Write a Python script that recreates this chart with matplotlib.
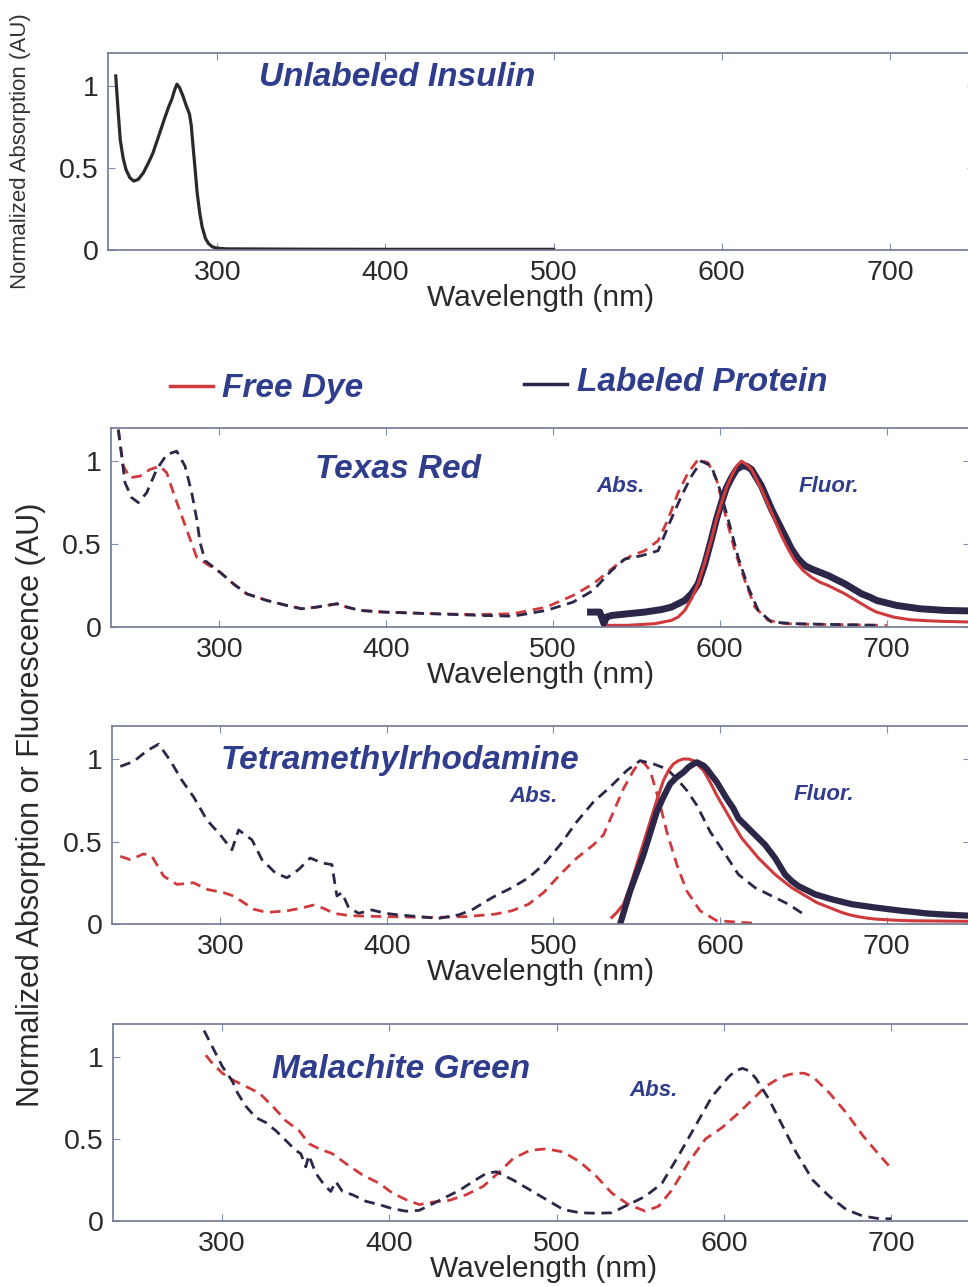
import matplotlib
matplotlib.use("Agg")
import matplotlib.pyplot as plt
from matplotlib.lines import Line2D

plt.rcParams['font.family'] = ['Liberation Sans', 'DejaVu Sans']

RED = '#cf3a3c'
DARK = '#2c2749'
BLUE = '#2f3d8c'
SPINE = '#707892'
TXT = '#2a2a2a'

# ---- Unlabeled insulin absorption ----
ins_wl = [239.6, 241, 242.3, 244, 245.7, 248, 250.3, 253, 256, 259, 261.7, 265, 268.6, 271,
          273, 274.8, 276, 277.5, 279.5, 281.5, 283.4, 284.5, 285.6, 287, 288, 289.5, 291,
          293, 294.7, 297, 299.3, 305, 350, 400, 450, 500]
ins_abs = [1.06, 0.85, 0.67, 0.56, 0.49, 0.44, 0.42, 0.43, 0.47, 0.53, 0.59, 0.69, 0.80, 0.87,
           0.92, 0.98, 1.01, 0.99, 0.94, 0.88, 0.83, 0.76, 0.63, 0.47, 0.35, 0.23, 0.14,
           0.07, 0.04, 0.02, 0.012, 0.007, 0.005, 0.004, 0.004, 0.004]

# ---- Texas Red ----
tr_free_abs_wl = [239.4, 242.4, 246.4, 252.4, 258.4, 264.4, 268.4, 272.4, 277.4, 282.4,
                  286.4, 292.4, 300.4, 308.4, 316.4, 328.4, 340.4, 349.4, 358.4, 370.4,
                  376.4, 384.4, 398.4, 428, 456, 476, 496, 512, 524, 534, 540, 547, 555,
                  563, 569, 575, 581, 587, 593, 598, 603, 609, 615, 621, 629, 639, 655,
                  675, 700]
tr_free_abs = [1.19, 0.97, 0.90, 0.91, 0.95, 0.97, 0.93, 0.81, 0.67, 0.53,
               0.42, 0.38, 0.33, 0.26, 0.20, 0.16, 0.13, 0.11, 0.12, 0.14,
               0.12, 0.10, 0.09, 0.08, 0.075, 0.08, 0.12, 0.19, 0.26, 0.34, 0.39, 0.43, 0.46,
               0.52, 0.65, 0.81, 0.93, 1.01, 0.99, 0.89, 0.69, 0.46, 0.28, 0.12, 0.04, 0.02, 0.016,
               0.014, 0.01]
tr_lab_abs_wl = [239.4, 243.4, 247.4, 251.4, 256.4, 262.4, 268.4, 274.4, 279.4, 283.4,
                 286.4, 288.4, 291.4, 300.4, 308.4, 316.4, 328.4, 340.4, 349.4, 358.4,
                 370.4, 376.4, 384.4, 398.4, 428, 456, 476, 496, 512, 524, 535, 543, 553,
                 563, 570, 577, 583, 589, 595, 600, 605, 611, 617, 623, 631, 645, 665, 694]
tr_lab_abs = [1.19, 0.87, 0.78, 0.75, 0.81, 0.95, 1.04, 1.06, 0.97, 0.81,
              0.65, 0.51, 0.40, 0.33, 0.26, 0.20, 0.16, 0.13, 0.11, 0.12,
              0.14, 0.12, 0.10, 0.09, 0.08, 0.07, 0.065, 0.10, 0.15, 0.22, 0.34, 0.41, 0.43,
              0.46, 0.63, 0.79, 0.91, 1.00, 0.97, 0.83, 0.65, 0.42, 0.24, 0.10, 0.03, 0.02, 0.016, 0.01]
tr_free_fl_wl = [533, 545, 561, 571, 575, 579, 583, 587, 591, 595, 598, 601, 604, 607, 610,
                 613, 616, 619, 622, 625, 628, 631, 634, 637, 641, 645, 650, 655, 660, 665, 670,
                 675, 680, 685, 690, 694, 699, 704, 714, 724, 734, 750]
tr_free_fl = [0.01, 0.01, 0.02, 0.04, 0.06, 0.10, 0.17, 0.26, 0.39, 0.53, 0.65, 0.75, 0.84,
              0.91, 0.97, 1.00, 0.98, 0.95, 0.89, 0.83, 0.76, 0.69, 0.62, 0.55, 0.47, 0.40, 0.34,
              0.30, 0.27, 0.25, 0.225, 0.20, 0.17, 0.14, 0.11, 0.09, 0.075, 0.06, 0.044, 0.038,
              0.034, 0.03]
tr_lab_fl_wl = [522.5, 528, 529.5, 530.5, 532, 535.4, 545, 555, 565, 571, 575, 579, 583, 587,
                591, 595, 598, 601, 604, 607, 610, 613, 616, 619, 622, 625, 628, 631, 635, 639,
                643, 647, 651, 655, 660, 665, 670, 675, 680, 685, 690, 694, 700, 706, 713, 720,
                735, 750]
tr_lab_fl = [0.09, 0.09, 0.05, 0.02, 0.06, 0.07, 0.08, 0.09, 0.105, 0.12, 0.14, 0.16, 0.20,
             0.26, 0.38, 0.53, 0.65, 0.75, 0.84, 0.90, 0.95, 0.97, 0.97, 0.95, 0.90, 0.85, 0.78,
             0.71, 0.63, 0.55, 0.47, 0.41, 0.37, 0.35, 0.33, 0.31, 0.285, 0.26, 0.23, 0.20,
             0.18, 0.16, 0.145, 0.13, 0.12, 0.11, 0.10, 0.097]

# ---- Tetramethylrhodamine ----
tmr_lab_abs_wl = [240, 248, 256, 263, 270, 277, 284, 292, 300, 307, 311, 319, 325, 333, 340,
                  347, 354, 361, 367, 369, 370, 373, 377, 383, 391, 399, 407, 419, 431, 443,
                  451, 459, 465, 475, 485, 494, 504, 514, 524, 534, 544, 552, 560, 568, 574,
                  580, 586, 594, 602, 611, 621, 631, 641, 650]
tmr_lab_abs = [0.955, 0.985, 1.05, 1.09, 0.99, 0.87, 0.77, 0.63, 0.54, 0.45, 0.57, 0.51, 0.39,
               0.31, 0.28, 0.33, 0.40, 0.37, 0.36, 0.23, 0.17, 0.19, 0.10, 0.065, 0.085, 0.065,
               0.055, 0.045, 0.034, 0.055, 0.085, 0.135, 0.17, 0.22, 0.28, 0.36, 0.48, 0.62,
               0.74, 0.83, 0.93, 0.99, 0.97, 0.94, 0.88, 0.81, 0.72, 0.56, 0.44, 0.30, 0.22,
               0.17, 0.12, 0.06]
tmr_free_abs_wl = [240, 246, 254, 259, 266, 274, 284, 292, 302, 308, 314, 320, 328, 340, 348,
                   356, 362, 368, 378, 398, 428, 448, 465, 475, 485, 494, 504, 514, 524, 530,
                   536, 542, 548, 551, 554, 558, 563, 568, 574, 580, 588, 598, 620]
tmr_free_abs = [0.41, 0.39, 0.425, 0.41, 0.29, 0.24, 0.25, 0.21, 0.19, 0.17, 0.13, 0.09, 0.07,
                0.08, 0.095, 0.115, 0.095, 0.065, 0.05, 0.045, 0.04, 0.045, 0.06, 0.08, 0.12,
                0.19, 0.30, 0.40, 0.48, 0.54, 0.68, 0.82, 0.93, 0.97, 0.98, 0.93, 0.76, 0.56,
                0.36, 0.20, 0.08, 0.02, 0.005]
tmr_free_fl_wl = [535, 538, 542, 546, 550, 554, 558, 562, 566, 569, 572, 575, 578, 581, 584,
                  587, 590, 594, 598, 602, 606, 610, 613, 618, 623, 628, 633, 638, 643, 648, 653,
                  658, 663, 668, 673, 678, 683, 688, 693, 703, 713, 730, 750]
tmr_free_fl = [0.04, 0.07, 0.12, 0.23, 0.36, 0.49, 0.62, 0.75, 0.87, 0.93, 0.97, 0.99, 1.00,
               1.00, 0.99, 0.96, 0.93, 0.86, 0.78, 0.71, 0.64, 0.57, 0.52, 0.46, 0.40, 0.35, 0.30,
               0.26, 0.22, 0.19, 0.16, 0.13, 0.11, 0.09, 0.07, 0.055, 0.044, 0.036, 0.03, 0.024,
               0.02, 0.018, 0.016]
tmr_lab_fl_wl = [540, 543, 546, 550, 554, 558, 562, 566, 570, 574, 578, 581, 584, 586, 588,
                 590, 592, 595, 598, 601, 604, 608, 611, 615, 619, 623, 627, 630, 633, 636, 639,
                 643, 647, 652, 657, 662, 667, 673, 679, 686, 693, 701, 709, 717, 724, 735, 750]
tmr_lab_fl = [0.0, 0.10, 0.20, 0.31, 0.42, 0.55, 0.68, 0.77, 0.85, 0.89, 0.92, 0.95, 0.97,
              0.98, 0.97, 0.96, 0.94, 0.90, 0.86, 0.81, 0.76, 0.70, 0.64, 0.60, 0.56, 0.52, 0.48,
              0.44, 0.40, 0.35, 0.30, 0.26, 0.23, 0.205, 0.18, 0.165, 0.15, 0.135, 0.12, 0.11,
              0.10, 0.09, 0.08, 0.072, 0.064, 0.057, 0.05]

# ---- Malachite Green ----
mg_lab_abs_wl = [289.4, 294.4, 300.4, 306.4, 309.4, 314.3, 320.3, 326.3, 332.3, 338.3, 344.2,
                 347.2, 350.2, 352, 356.2, 361.2, 365.1, 368.1, 372.1, 378.1, 386.1, 394,
                 402, 410, 418, 426, 434, 442, 450, 458, 464, 474, 484, 494, 504, 514, 524,
                 533, 543, 553, 563, 573, 583, 593, 603, 607, 611, 615, 619, 627, 635, 643, 653,
                 663, 673, 683, 693, 700]
mg_lab_abs = [1.16, 1.06, 0.94, 0.85, 0.78, 0.70, 0.63, 0.60, 0.55, 0.49, 0.43, 0.41, 0.33,
              0.40, 0.29, 0.22, 0.18, 0.24, 0.18, 0.16, 0.12, 0.10, 0.075, 0.06, 0.065, 0.105,
              0.146, 0.187, 0.24, 0.29, 0.30, 0.25, 0.19, 0.13, 0.07, 0.05, 0.047, 0.05, 0.10,
              0.15, 0.23, 0.40, 0.58, 0.76, 0.88, 0.915, 0.93, 0.915, 0.87, 0.74, 0.58, 0.42,
              0.25, 0.15, 0.07, 0.03, 0.014, 0.014]
mg_free_abs_wl = [290.4, 294.4, 300.4, 306.4, 314.3, 322.3, 330.3, 338.3, 346.2, 352.2, 358.2,
                  366.1, 374.1, 384.1, 394, 402, 410, 418, 426, 436, 446, 456, 466, 474, 484,
                  494, 504, 514, 524, 533, 543, 553, 561, 569, 579, 589, 599, 609, 617, 625,
                  633, 638, 643, 648, 653, 663, 673, 683, 693, 700]
mg_free_abs = [1.01, 0.96, 0.90, 0.86, 0.82, 0.78, 0.70, 0.61, 0.55, 0.47, 0.44, 0.41, 0.35,
               0.28, 0.23, 0.17, 0.13, 0.10, 0.115, 0.126, 0.16, 0.21, 0.30, 0.38, 0.43, 0.44,
               0.42, 0.36, 0.27, 0.17, 0.10, 0.06, 0.09, 0.19, 0.36, 0.50, 0.57, 0.66, 0.74,
               0.82, 0.87, 0.89, 0.90, 0.90, 0.88, 0.78, 0.66, 0.52, 0.40, 0.32]

XLIM = (235, 750)
YLIM = (0, 1.2)
XTICKS = [300, 400, 500, 600, 700]
YTICKS = [0, 0.5, 1]
YTICKLABELS = ['0', '0.5', '1']

W, H = 968, 1287
fig = plt.figure(figsize=(W / 100, H / 100), dpi=100)


def px_axes(left, right, top, bottom):
    return fig.add_axes([left / W, 1 - bottom / H, (right - left) / W, (bottom - top) / H])


def style(ax):
    ax.set_xlim(*XLIM)
    ax.set_ylim(*YLIM)
    ax.set_xticks(XTICKS)
    ax.set_yticks(YTICKS)
    ax.set_yticklabels(YTICKLABELS)
    ax.tick_params(direction='in', top=True, right=True, length=5, width=0.8,
                   color='#7f8bb0', labelsize=20.5, pad=7, labelcolor=TXT)
    for s in ax.spines.values():
        s.set_color(SPINE)
        s.set_linewidth(1.2)
    ax.set_xlabel('Wavelength (nm)', fontsize=21.5, color=TXT, labelpad=-1)


dash = (0, (3.8, 2.4))

# Panel 1
ax1 = px_axes(108, 974, 53, 250)
style(ax1)
ax1.plot(ins_wl, ins_abs, color='#2a2a2e', lw=2.3)
ax1.set_ylabel('Normalized Absorption (AU)', fontsize=16, color='#333333')
ax1.yaxis.set_label_coords((31 - 108) / 866, 0.5)

# Panel 2
ax2 = px_axes(111, 970, 428, 627)
style(ax2)
ax2.plot(tr_free_abs_wl, tr_free_abs, color=RED, lw=2.0, ls=dash)
ax2.plot(tr_lab_abs_wl, tr_lab_abs, color=DARK, lw=2.0, ls=dash)
ax2.plot(tr_lab_fl_wl, tr_lab_fl, color=DARK, lw=5.0)
ax2.plot(tr_free_fl_wl, tr_free_fl, color=RED, lw=2.2)

# Panel 3
ax3 = px_axes(112, 970, 726, 924)
style(ax3)
ax3.plot(tmr_free_abs_wl, tmr_free_abs, color=RED, lw=2.0, ls=dash)
ax3.plot(tmr_lab_abs_wl, tmr_lab_abs, color=DARK, lw=2.0, ls=dash)
ax3.plot(tmr_free_fl_wl, tmr_free_fl, color=RED, lw=2.2)
ax3.plot(tmr_lab_fl_wl, tmr_lab_fl, color=DARK, lw=4.5)

# Panel 4
ax4 = px_axes(113, 975, 1024, 1221)
style(ax4)
ax4.plot(mg_free_abs_wl, mg_free_abs, color=RED, lw=2.0, ls=dash)
ax4.plot(mg_lab_abs_wl, mg_lab_abs, color=DARK, lw=2.0, ls=dash)

# Shared y label for the dye panels
fig.text(31 / W, 1 - 805 / H, 'Normalized Absorption or Fluorescence (AU)', rotation=90,
         fontsize=22, color=TXT, ha='center', va='center')

# Panel titles
title_kw = dict(fontsize=24, fontweight='bold', fontstyle='italic', color=BLUE,
                ha='center', va='center')
fig.text(397 / W, 1 - 78 / H, 'Unlabeled Insulin', **title_kw)
fig.text(398 / W, 1 - 470 / H, 'Texas Red', **title_kw)
fig.text(400 / W, 1 - 761 / H, 'Tetramethylrhodamine', **title_kw)
fig.text(401 / W, 1 - 1069 / H, 'Malachite Green', **title_kw)

small_kw = dict(fontsize=16, fontweight='bold', fontstyle='italic', color=BLUE,
                ha='center', va='center')
fig.text(621 / W, 1 - 487 / H, 'Abs.', **small_kw)
fig.text(829 / W, 1 - 486 / H, 'Fluor.', **small_kw)
fig.text(534 / W, 1 - 796 / H, 'Abs.', **small_kw)
fig.text(824 / W, 1 - 794 / H, 'Fluor.', **small_kw)
fig.text(654 / W, 1 - 1090 / H, 'Abs.', **small_kw)

# Legend
fig.add_artist(Line2D([170 / W, 213 / W], [1 - 386 / H, 1 - 386 / H], color=RED, lw=2.5,
                      transform=fig.transFigure))
fig.text(222 / W, 1 - 388 / H, 'Free Dye', fontsize=24, fontweight='bold', fontstyle='italic',
         color=BLUE, ha='left', va='center')
fig.add_artist(Line2D([524 / W, 567 / W], [1 - 384 / H, 1 - 384 / H], color=DARK, lw=2.5,
                      transform=fig.transFigure))
fig.text(577 / W, 1 - 383 / H, 'Labeled Protein', fontsize=24, fontweight='bold',
         fontstyle='italic', color=BLUE, ha='left', va='center')

fig.savefig('out.png', dpi=100, facecolor='white')
